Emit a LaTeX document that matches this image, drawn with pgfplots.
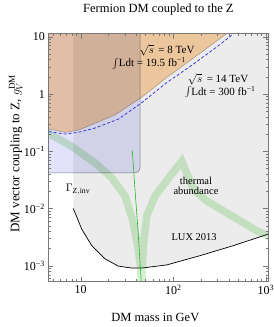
\documentclass[border=0pt]{standalone}
\usepackage{fontspec}
\setmainfont{Liberation Serif}
\usepackage{pgfplots}
\pgfplotsset{compat=1.18}
\usetikzlibrary{calc}
\definecolor{greyreg}{RGB}{236,236,236}
\definecolor{bluereg}{RGB}{226,226,251}
\definecolor{orangereg}{RGB}{255,215,170}
\definecolor{bandgreen}{RGB}{212,241,208}
\definecolor{dashblue}{RGB}{60,60,215}
\definecolor{framegray}{RGB}{120,120,120}
\definecolor{lgreen}{RGB}{40,185,40}
\begin{document}
\begin{tikzpicture}
\begin{axis}[name=ax, at={(0,0)}, anchor=south west,
  scale only axis, width=220pt, height=248pt,
  xmode=log, ymode=log,
  xmin=4.47, xmax=1067, ymin=5.3e-4, ymax=11.4,
  axis on top,
  axis line style={framegray, line width=0.5pt},
  tick style={framegray, line width=0.4pt},
  major tick length=5pt, minor tick length=2.5pt,
  xtick={10,100,1000},
  xticklabels={10, 10\textsuperscript{2}, 10\textsuperscript{3}},
  minor xtick={5,6,7,8,9,20,30,40,50,60,70,80,90,200,300,400,500,600,700,800,900},
  ytick={0.001,0.01,0.1,1,10},
  yticklabels={10\textsuperscript{−3}, 10\textsuperscript{−2}, 10\textsuperscript{−1}, 1, 10},
  minor ytick={0.0006,0.0007,0.0008,0.0009,0.002,0.003,0.004,0.005,0.006,0.007,0.008,0.009,0.02,0.03,0.04,0.05,0.06,0.07,0.08,0.09,0.2,0.3,0.4,0.5,0.6,0.7,0.8,0.9,2,3,4,5,6,7,8,9},
  ticklabel style={font=\fontsize{12}{12}\selectfont},
]
% LUX excluded region (grey)
\addplot[fill=greyreg, draw=none] coordinates {
 (8.32,20) (8.32,0.01005) (10.25,0.0044) (13.15,0.00226) (18.3,0.00133) (25.5,0.00099)
 (35.6,0.000916) (45.6,0.000916) (85.1,0.00104) (195,0.00151) (447,0.00226) (1067,0.0036)
 (1300,0.0042) (1300,20)} -- cycle;
% invisible Z width region (blue)
\addplot[fill=bluereg, draw=black!45, line width=0.5pt, rounded corners=5pt, blend mode=multiply] coordinates {
 (3,20) (43.8,20) (43.8,0.042) (3,0.042)} -- cycle;
% 8 TeV region (orange)
\addplot[fill=orangereg, draw=black!35, line width=0.4pt, blend mode=multiply] coordinates {
 (4.0,0.26) (4.47,0.247) (6.76,0.213) (9.5,0.235) (13,0.29) (23.5,0.433) (38.6,0.736) (46.0,0.887)
 (85.7,1.97) (164,4.21) (321,9.35) (372,11.2) (420,14) (420,20) (4,20)} -- cycle;
% thermal band
\addplot[draw=bandgreen, line width=7.5pt, line join=miter, miter limit=10, blend mode=multiply] coordinates {
 (4.0,0.245) (4.47,0.208) (8.0,0.122) (14.3,0.063) (21.6,0.0346) (30.1,0.0166) (36.1,0.00655)
 (41.3,0.00226) (44.6,0.00089) (45.5,0.0003) (46.2,0.00089) (47.5,0.00226) (51.7,0.00748)
 (63.5,0.0166) (92.3,0.0369) (123.6,0.0671) (165,0.0217) (230,0.0136) (348,0.00912)
 (527,0.00612) (800,0.00411) (1114,0.00319) (1300,0.0029)};
% 14 TeV projection
\addplot[dashblue, line width=0.8pt, dash pattern=on 3pt off 2pt] coordinates {
 (4.0,0.23) (4.47,0.222) (6.76,0.2) (9.5,0.215) (14.3,0.255) (25.5,0.365) (43.8,0.671)
 (85.7,1.6) (164,3.31) (321,7.36) (443,11.2) (480,14)};
% LUX line
\addplot[black, line width=0.7pt] coordinates {
 (8.32,0.01005) (10.25,0.0044) (13.15,0.00226) (18.3,0.00133) (25.5,0.00099)
 (35.6,0.000916) (45.6,0.000916) (85.1,0.00104) (195,0.00151) (447,0.00226) (1067,0.0036) (1300,0.0042)};
% thin green line
\addplot[lgreen, line width=0.6pt] coordinates {
 (36.1,0.104) (37.9,0.032) (41.5,0.0044) (45.6,0.0004)};
% annotations
\node[font=\fontsize{11}{11}\selectfont] at (axis cs:85.7,5.79) {$\sqrt{s}$\, = 8 TeV};
\node[font=\fontsize{11}{11}\selectfont] at (axis cs:54.7,3.45) {$\int$Ldt = 19.5 fb\textsuperscript{−1}};
\node[font=\fontsize{11}{11}\selectfont] at (axis cs:305,1.82) {$\sqrt{s}$\, = 14 TeV};
\node[font=\fontsize{11}{11}\selectfont] at (axis cs:321,1.08) {$\int$Ldt = 300 fb\textsuperscript{−1}};
\node[font=\fontsize{11}{11}\selectfont] at (axis cs:9.35,0.0217) {$\Gamma_{\mathrm{Z,inv}}$};
\node[font=\fontsize{10.5}{10.5}\selectfont] at (axis cs:176,0.0299) {thermal};
\node[font=\fontsize{10.5}{10.5}\selectfont] at (axis cs:176,0.020) {abundance};
\node[font=\fontsize{10.5}{10.5}\selectfont] at (axis cs:168,0.00319) {LUX 2013};
\end{axis}
\node[anchor=base, font=\fontsize{12.5}{12.5}\selectfont] at ($(ax.north)+(0,21.5pt)$) {Fermion DM coupled to the Z};
\node[anchor=base, font=\fontsize{12.5}{12.5}\selectfont] at ($(ax.south)+(-3pt,-40pt)$) {DM mass in GeV};
\node[anchor=base, rotate=90, font=\fontsize{13}{13}\selectfont] at ($(ax.west)+(-29pt,4pt)$) {DM vector coupling to Z, $g_V^{\mathrm{DM}}$};
\pgfresetboundingbox
\path ($(ax.south west)+(-48.3pt,-45.3pt)$) rectangle ($(ax.north east)+(4.7pt,33.5pt)$);
\end{tikzpicture}
\end{document}
